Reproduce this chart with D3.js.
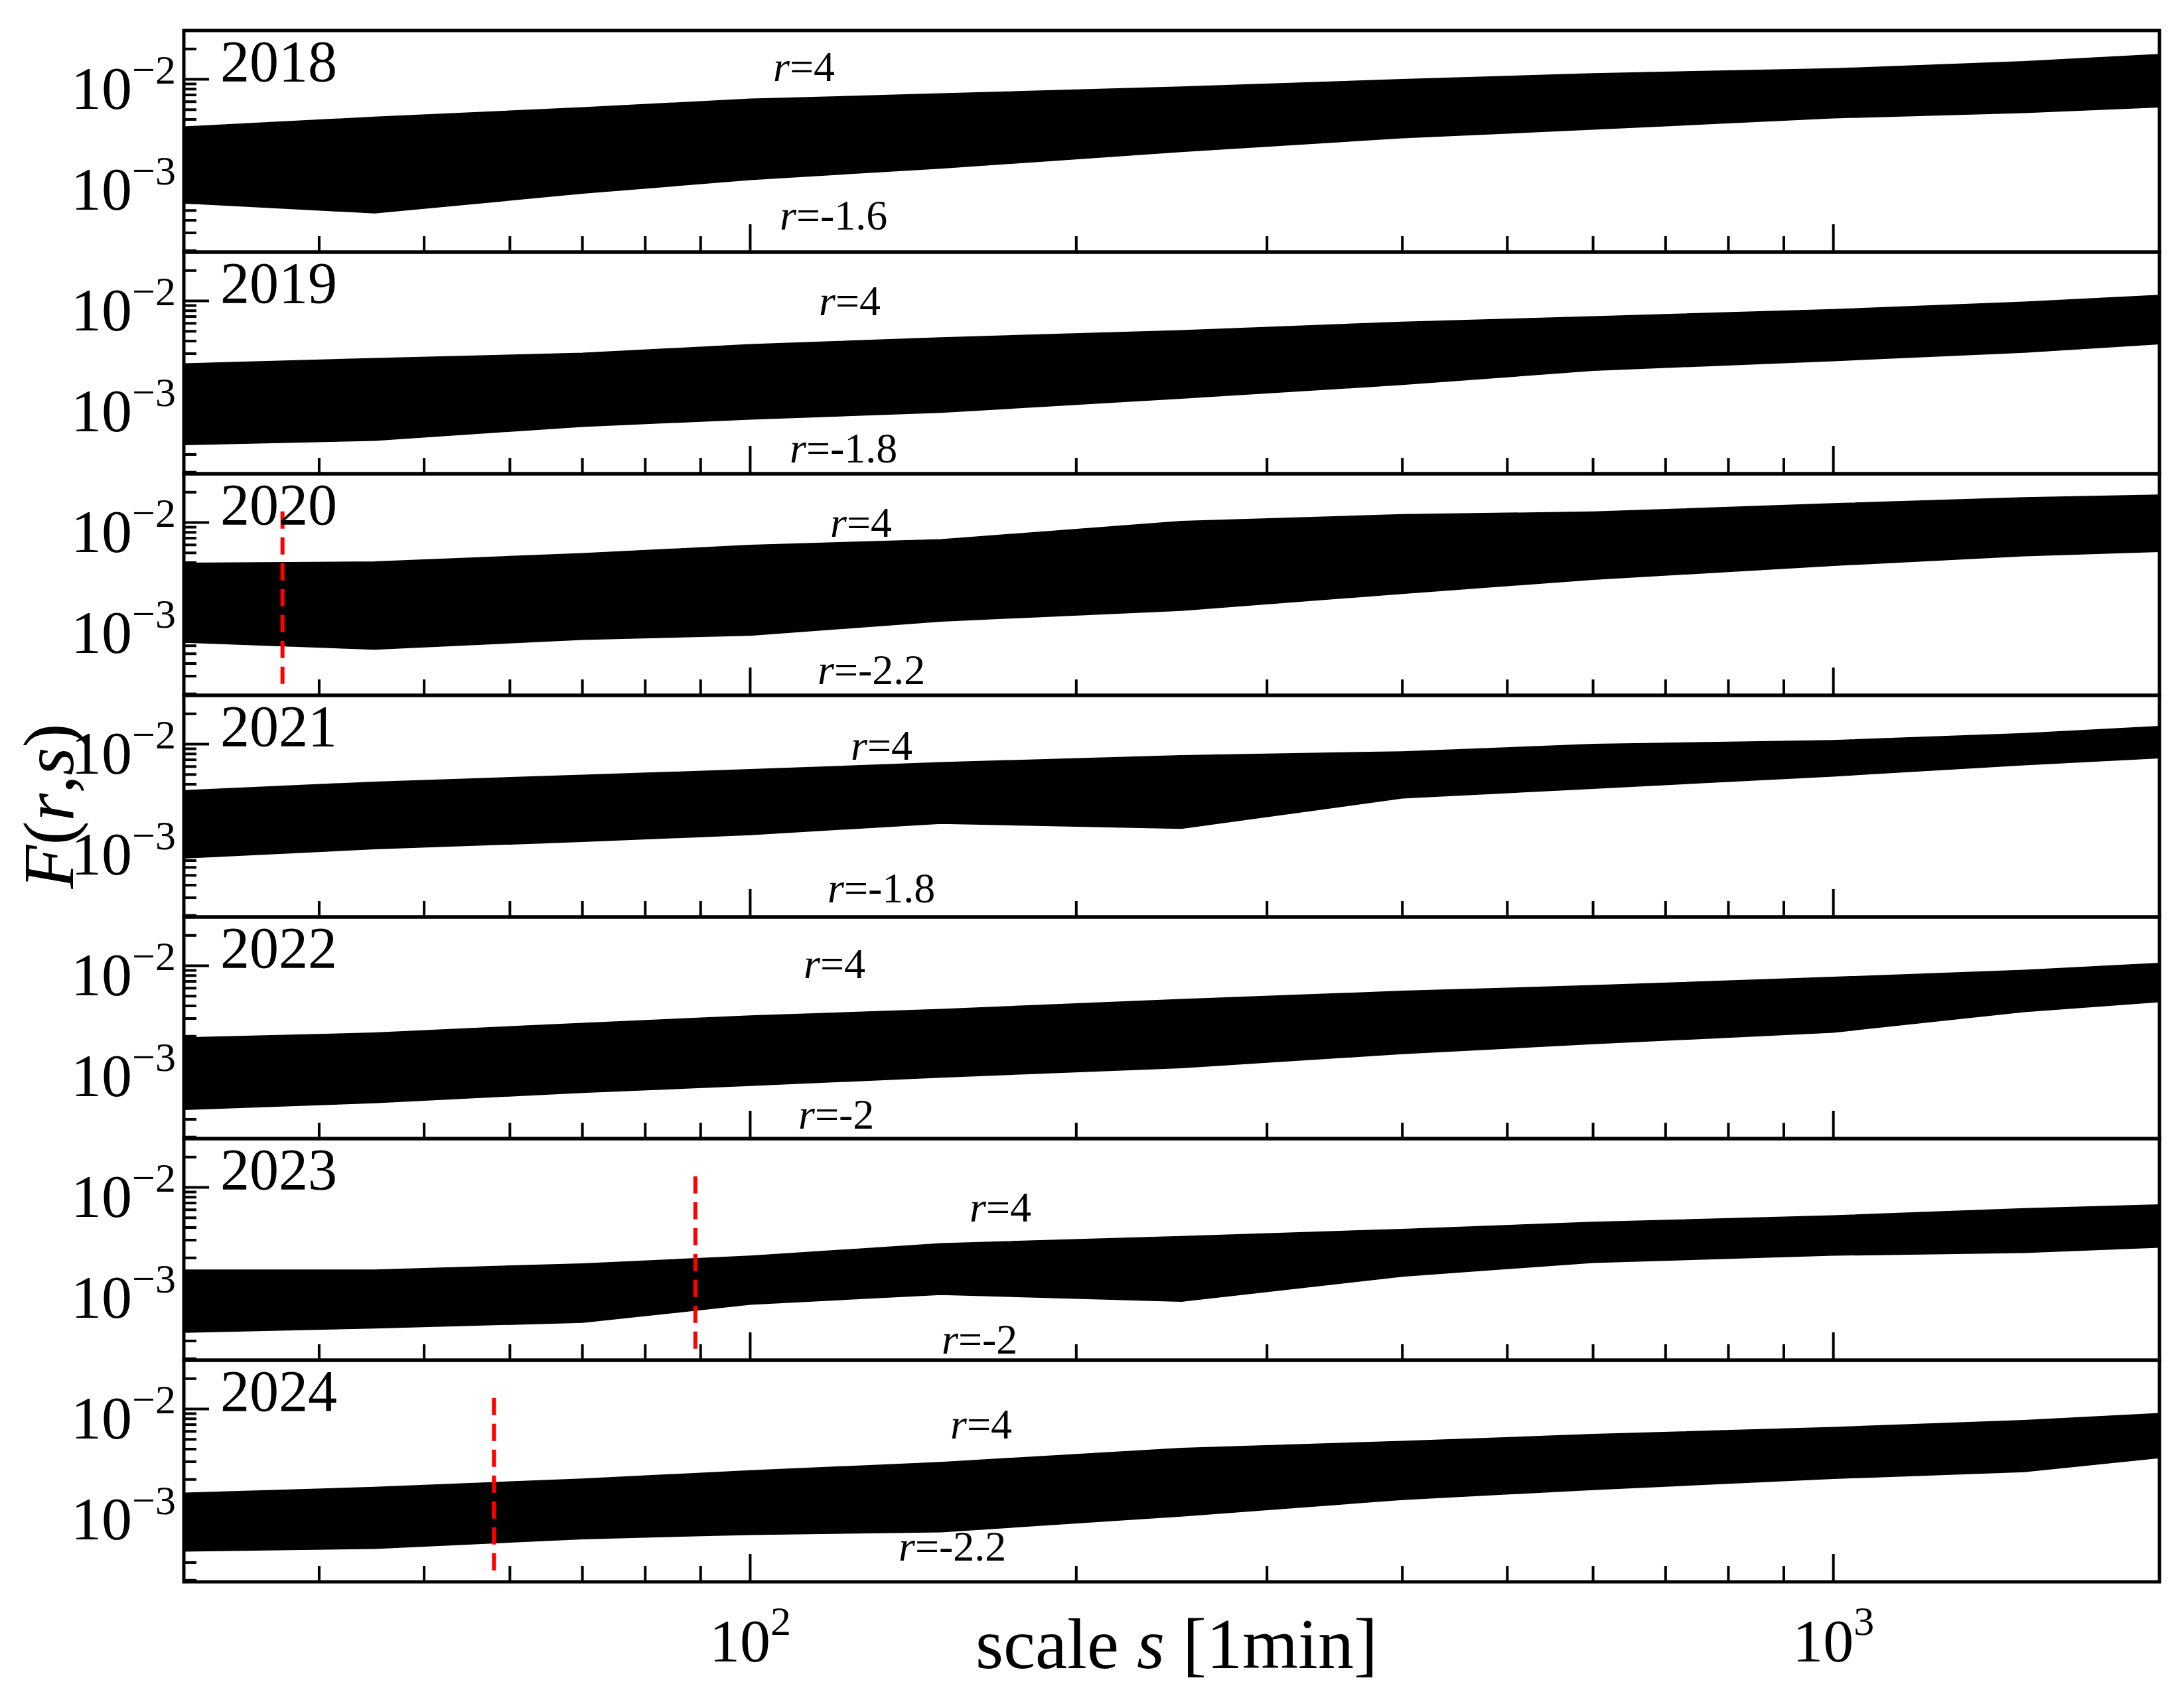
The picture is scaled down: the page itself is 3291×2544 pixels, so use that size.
<!DOCTYPE html>
<html><head><meta charset="utf-8">
<script src="https://cdn.jsdelivr.net/npm/d3@7"></script>
<style>body{margin:0;background:#fff}svg{display:block}</style>
</head><body>
<div id="chart"></div>
<script>
// scale points s [1min] shared by all years
const scales = [30, 45, 70, 100, 150, 250, 400, 600, 1000, 1500, 2000];
const years = ["2018", "2019", "2020", "2021", "2022", "2023", "2024"];
const rMin = ["-1.6", "-1.8", "-2.2", "-1.8", "-2", "-2", "-2.2"];

// upper envelope (r=4) and lower envelope (r=rMin), F(r,s)
const upper2018 = [.00328, .00411, .00510, .00620, .00700, .00820, .0097, .0111, .0124, .0146, .0172];
const lower2018 = [.000610, .000485, .000760, .00104, .00135, .00197, .00270, .00328, .00425, .00480, .00545];
const upper2019 = [.00232, .00262, .00295, .00360, .00420, .00495, .00600, .00680, .00800, .00950, .0111];
const lower2019 = [.000385, .000425, .000585, .000690, .000805, .00111, .00152, .00210, .00262, .00318, .00385];
const upper2020 = [.00385, .00397, .00480, .00580, .00660, .0100, .0117, .0124, .0150, .0172, .0183];
const lower2020 = [.000667, .000569, .000710, .000782, .00108, .00138, .00203, .00280, .00385, .00480, .00529];
const upper2021 = [.00338, .00410, .00480, .00545, .00640, .00750, .00820, .0097, .0106, .0124, .0146];
const lower2021 = [.000760, .000940, .00111, .00130, .00168, .00150, .00300, .00374, .00495, .00640, .00750];
const upper2022 = [.00188, .00210, .00262, .00310, .00360, .00451, .00545, .00620, .00750, .00880, .0103];
const lower2022 = [.000385, .000450, .000569, .000667, .000805, .00100, .00138, .00173, .00225, .00360, .00451];
const upper2023 = [.00148, .00148, .00170, .00203, .00270, .00318, .00374, .00440, .00510, .00600, .00655];
const lower2023 = [.000375, .000414, .000470, .000710, .00089, .000760, .00135, .00185, .00218, .00232, .00262];
const upper2024 = [.00143, .00163, .00197, .00238, .00288, .00397, .00465, .00545, .00640, .00750, .00880];
const lower2024 = [.000400, .000425, .000530, .000585, .000620, .000890, .00130, .00163, .00210, .00245, .00338];
const uppers = [upper2018, upper2019, upper2020, upper2021, upper2022, upper2023, upper2024];
const lowers = [lower2018, lower2019, lower2020, lower2021, lower2022, lower2023, lower2024];

// crossover scales (red dashed), null where none
const crossover = [null, null, 37, null, null, 89, 58];

const W = 3291, H = 2544;
const left = 277, right = 3254, top0 = 46, ph = 334;

const svg = d3.select("#chart").append("svg").attr("width", W).attr("height", H)
  .style("font-family", "'Liberation Serif', 'Times New Roman', Times, serif");

const x = d3.scaleLog().domain([30, 2000]).range([left, right]);
const yFor = (i) => d3.scaleLog().domain([Math.pow(10, -3.714), Math.pow(10, -1.516)])
  .range([top0 + (i + 1) * ph, top0 + i * ph]);

// label offsets (px, relative to panel top / x)
const rUpPos = [[1165, 76], [1234, 95], [1251, 95], [1282, 97], [1211, 92], [1461, 125], [1432, 118]];
const rLoPos = [[1175, 300], [1190, 317], [1232, 317], [1247, 312], [1203, 319], [1419, 324], [1354, 302]];

years.forEach((yr, i) => {
  const y = yFor(i);
  const py = top0 + i * ph;
  const g = svg.append("g");
  const clipId = "clip" + i;
  g.append("clipPath").attr("id", clipId).append("rect")
    .attr("x", left).attr("y", py).attr("width", right - left).attr("height", ph);

  const band = scales.map((s, j) => ({ s, hi: uppers[i][j], lo: lowers[i][j] }));
  const pg = g.append("g").attr("clip-path", `url(#${clipId})`);
  pg.append("path").datum(band)
    .attr("d", d3.area().x(d => x(d.s)).y0(d => y(d.lo)).y1(d => y(d.hi)))
    .attr("fill", "#000");
  [d => d.hi, d => d.lo].forEach(acc => {
    pg.append("path").datum(band)
      .attr("d", d3.line().x(d => x(d.s)).y(d => y(acc(d))))
      .attr("fill", "none").attr("stroke", "#000").attr("stroke-width", 5);
  });

  if (crossover[i]) {
    pg.append("line")
      .attr("x1", x(crossover[i])).attr("x2", x(crossover[i]))
      .attr("y1", py + 0.17 * ph).attr("y2", py + 0.98 * ph)
      .attr("stroke", "red").attr("stroke-width", 6).attr("stroke-dasharray", "26,13");
  }

  // y ticks (inward)
  const yt = [];
  for (let e = -4; e <= -2; e++) for (let m = 1; m <= 9; m++) {
    const v = m * Math.pow(10, e);
    if (y(v) > py + 2 && y(v) < py + ph - 2) yt.push({ v, major: m === 1 });
  }
  g.selectAll(".yt").data(yt).join("line")
    .attr("x1", left).attr("x2", d => left + (d.major ? 38 : 19))
    .attr("y1", d => y(d.v)).attr("y2", d => y(d.v))
    .attr("stroke", "#000").attr("stroke-width", 4);

  // y labels
  [-2, -3].forEach(e => {
    const t = g.append("text").attr("x", left - 12).attr("y", y(Math.pow(10, e)) + 44)
      .attr("text-anchor", "end").attr("font-size", 92);
    t.append("tspan").text("10");
    t.append("tspan").attr("dy", -38).attr("font-size", 62).text("\u2212" + (-e));
  });

  // x ticks (inward, bottom)
  const xt = [];
  for (let e = 1; e <= 3; e++) for (let m = 1; m <= 9; m++) {
    const v = m * Math.pow(10, e);
    if (v > 30 && v < 2000) xt.push({ v, major: m === 1 });
  }
  g.selectAll(".xt").data(xt).join("line")
    .attr("x1", d => x(d.v)).attr("x2", d => x(d.v))
    .attr("y1", py + ph).attr("y2", d => py + ph - (d.major ? 42 : 24))
    .attr("stroke", "#000").attr("stroke-width", 4);

  g.append("rect").attr("x", left).attr("y", py).attr("width", right - left).attr("height", ph)
    .attr("fill", "none").attr("stroke", "#000").attr("stroke-width", 5);

  g.append("text").attr("x", 332).attr("y", py + 76).attr("font-size", 88).text(yr);

  const up = g.append("text").attr("x", rUpPos[i][0]).attr("y", py + rUpPos[i][1]).attr("font-size", 64);
  up.append("tspan").attr("font-style", "italic").text("r");
  up.append("tspan").text("=4");
  const lo = g.append("text").attr("x", rLoPos[i][0]).attr("y", py + rLoPos[i][1]).attr("font-size", 64);
  lo.append("tspan").attr("font-style", "italic").text("r");
  lo.append("tspan").text("=" + rMin[i]);
});

// x tick labels
const bottom = top0 + 7 * ph;
[100, 1000].forEach(v => {
  const t = svg.append("text").attr("x", x(v)).attr("y", bottom + 120)
    .attr("text-anchor", "middle").attr("font-size", 92);
  t.append("tspan").text("10");
  t.append("tspan").attr("dy", -40).attr("font-size", 62).text(Math.log10(v));
});

// axis titles
const xt = svg.append("text").attr("x", 1773).attr("y", bottom + 130)
  .attr("text-anchor", "middle").attr("font-size", 108);
xt.append("tspan").text("scale ");
xt.append("tspan").attr("font-style", "italic").text("s");
xt.append("tspan").text(" [1min]");

const yl = svg.append("text").attr("transform", `translate(110,${top0 + 3.5 * ph}) rotate(-90)`)
  .attr("text-anchor", "middle").attr("font-size", 108);
yl.append("tspan").attr("font-style", "italic").text("F");
yl.append("tspan").text("(");
yl.append("tspan").attr("font-style", "italic").text("r");
yl.append("tspan").text(",");
yl.append("tspan").attr("font-style", "italic").text("s");
yl.append("tspan").text(")");
</script>
</body></html>
